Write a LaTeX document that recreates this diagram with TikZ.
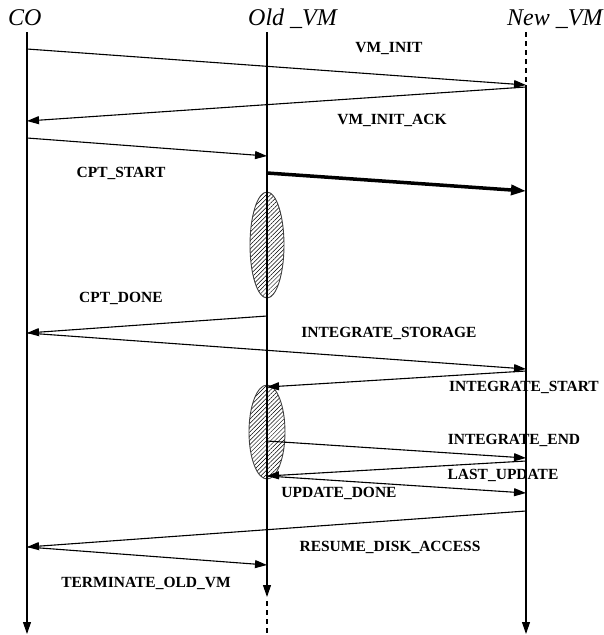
\documentclass[tikz,border=0pt]{standalone}
\usepackage{fontspec}
\setmainfont{Liberation Serif}
\usetikzlibrary{arrows.meta,patterns.meta,shapes.geometric,positioning}

\begin{document}
\begin{tikzpicture}[x=1pt, y=-1pt,
		msg/.style={-{Triangle[length=12pt,width=8pt]}, line width=1.1pt},
		bigmsg/.style={-{Triangle[length=15pt,width=10pt]}, line width=3.5pt},
		life/.style={line width=1.1pt},
		lbl/.style={font=\fontsize{15.5}{16}\selectfont\bfseries, inner sep=0pt},
		actor/.style={font=\fontsize{24}{24}\selectfont\itshape, anchor=base west, inner sep=0pt},
		busy/.style={draw=black!75, line width=0.9pt, ellipse, inner sep=0pt,
			pattern={Lines[angle=45,distance=3pt,line width=0.5pt]}}]
		\useasboundingbox (0,0) rectangle (603,635);
		
		% lifeline heads
		\node[actor] (co) at (8,25) {CO};
		\node[actor] (old) at (248,25) {Old \_VM};
		\node[actor] (new) at (507,25) {New \_VM};
		
		% busy periods of the old VM
		\node[busy, minimum width=34pt, minimum height=106pt] (ckpt) at (267,245) {};
		\node[busy, minimum width=36pt, minimum height=94pt] (integ) at (267,432) {};
		
		% lifelines
		\coordinate (co top) at (27,32);
		\coordinate (co end) at (27,634);
		\coordinate (old top) at (267,32);
		\coordinate (old end) at (267,597);
		\coordinate (old gap) at (267,601);
		\coordinate (old bot) at (267,635);
		\coordinate (new top) at (526,32);
		\coordinate (new on) at (526,85);
		\coordinate (new end) at (526,634);
		
		\draw[life, -{Triangle[length=12pt,width=8pt]}] (co top) -- (co end);
		\draw[life, -{Triangle[length=12pt,width=8pt]}] (old top) -- (old end);
		\draw[life, dash pattern=on 5pt off 4pt] (old gap) -- (old bot);
		\draw[life, dash pattern=on 5pt off 4pt] (new top) -- (new on);
		\draw[life, -{Triangle[length=12pt,width=8pt]}] (new on) -- (new end);
		
		% message end points
		\coordinate (co1) at (27,49);     \coordinate (new1) at (526,85);
		\coordinate (new2) at (526,87);   \coordinate (co2) at (27,121);
		\coordinate (co3) at (27,138);    \coordinate (old3) at (267,156);
		\coordinate (old4) at (267,173);  \coordinate (new4) at (526,191);
		\coordinate (old5) at (267,316);  \coordinate (co5) at (27,333);
		\coordinate (new6) at (526,369);
		\coordinate (new7) at (526,371);  \coordinate (old7) at (267,387);
		\coordinate (old8) at (267,441);  \coordinate (new8) at (526,458);
		\coordinate (new9) at (526,461);  \coordinate (old9) at (267,476);
		\coordinate (new10) at (526,493);
		\coordinate (new11) at (526,511); \coordinate (co11) at (27,547);
		\coordinate (old12) at (267,565);
		
		% messages
		\draw[msg] (co1) -- (new1);
		\draw[msg] (new2) -- (co2);
		\draw[msg] (co3) -- (old3);
		\draw[bigmsg] (old4) -- (new4);
		\draw[msg] (old5) -- (co5);
		\draw[msg] (co5) -- (new6);
		\draw[msg] (new7) -- (old7);
		\draw[msg] (old8) -- (new8);
		\draw[msg] (new9) -- (old9);
		\draw[msg] (old9) -- (new10);
		\draw[msg] (new11) -- (co11);
		\draw[msg] (co11) -- (old12);
		
		% message names
		\node[lbl] (vminit) at (389,49) {VM\_INIT};
		\node[lbl] (vmack) at (392,120) {VM\_INIT\_ACK};
		\node[lbl] (cptstart) at (121,173) {CPT\_START};
		\node[lbl] (cptdone) at (121,298) {CPT\_DONE};
		\node[lbl] (intstore) at (389,333) {INTEGRATE\_STORAGE};
		\node[lbl] (intstart) at (524,387) {INTEGRATE\_START};
		\node[lbl] (intend) at (514,440) {INTEGRATE\_END};
		\node[lbl] (lastupd) at (503,475) {LAST\_UPDATE};
		\node[lbl] (upddone) at (339,493) {UPDATE\_DONE};
		\node[lbl] (resume) at (390,547) {RESUME\_DISK\_ACCESS};
		\node[lbl] (termold) at (146,583) {TERMINATE\_OLD\_VM};
		\end{tikzpicture}
\end{document}
